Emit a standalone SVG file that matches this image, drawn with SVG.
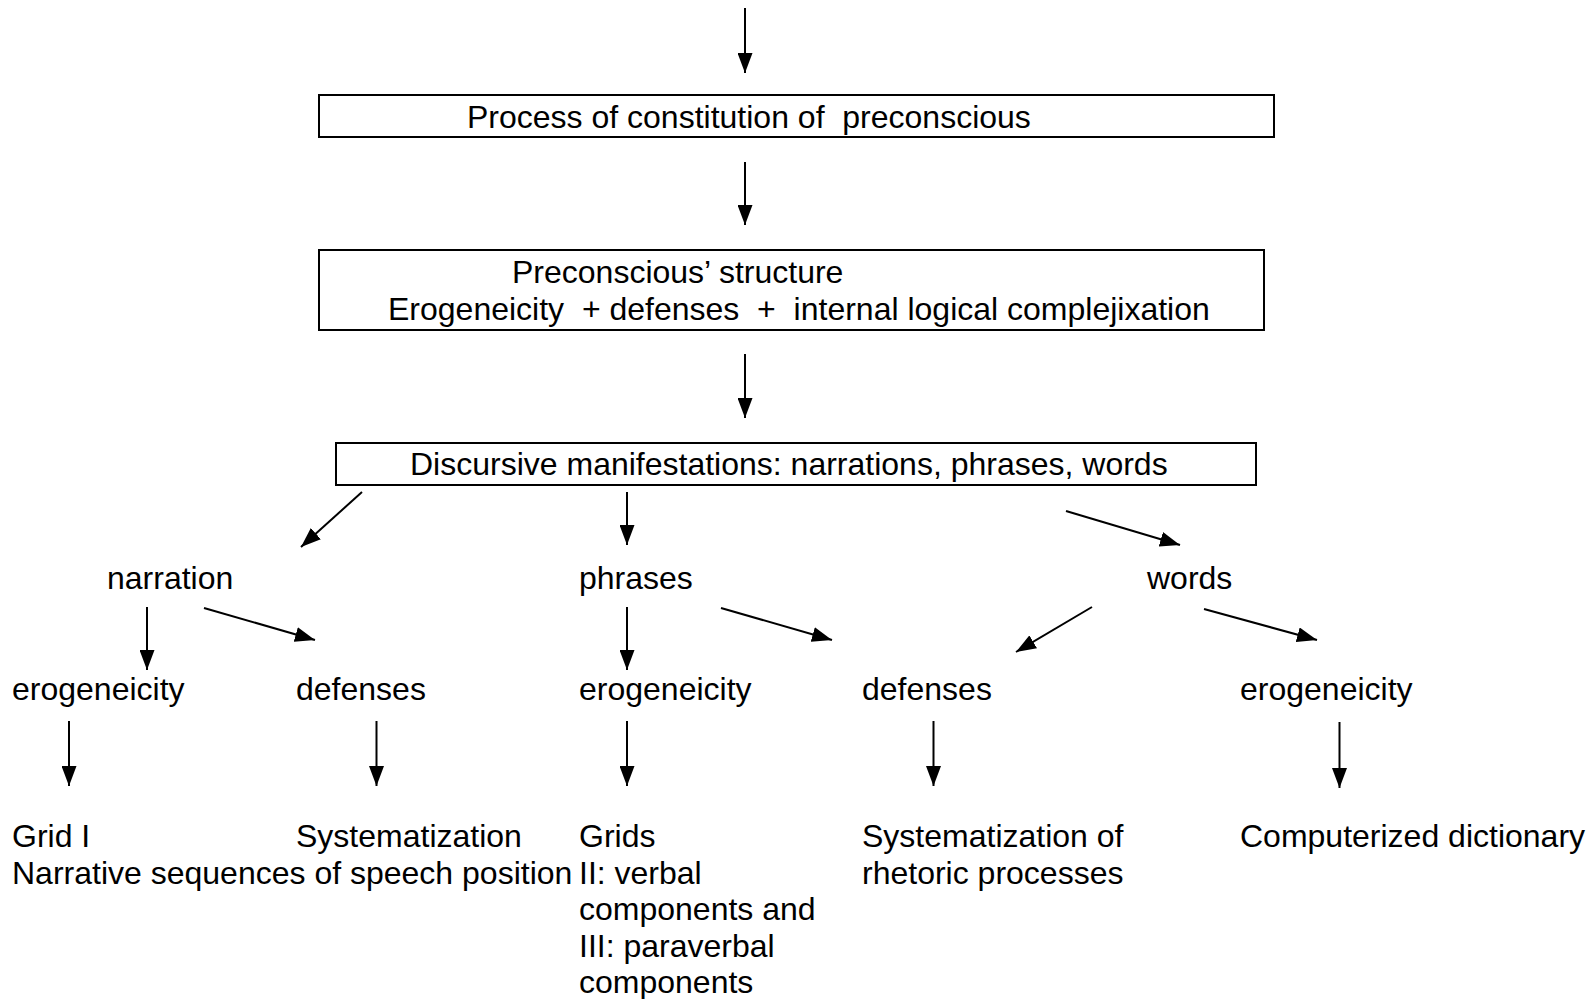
<svg xmlns="http://www.w3.org/2000/svg" width="1591" height="999" viewBox="0 0 1591 999">
<style>
text{font-family:"Liberation Sans",Arial,sans-serif;font-size:32px;fill:#000;white-space:pre}
.box{fill:#fff;stroke:#000;stroke-width:2}
.c line{stroke:#000;stroke-width:2;marker-end:url(#ah)}
</style>
<defs>
<marker id="ah" markerUnits="userSpaceOnUse" markerWidth="20" markerHeight="15" refX="20" refY="7.5" orient="auto"><path d="M0,0 L20,7.5 L0,15 z" fill="#000"/></marker>
</defs>
<rect width="1591" height="999" fill="#fff"/>
<g class="c" id="connectors">
<line x1="745" y1="8" x2="745" y2="73"/>
<line x1="745" y1="162" x2="745" y2="225"/>
<line x1="745" y1="354" x2="745" y2="418"/>
<line x1="362" y1="492" x2="301" y2="547"/>
<line x1="627" y1="492" x2="627" y2="545"/>
<line x1="1066" y1="511" x2="1180" y2="545"/>
<line x1="147" y1="607" x2="147" y2="670"/>
<line x1="204" y1="608" x2="315" y2="640"/>
<line x1="627" y1="607" x2="627" y2="670"/>
<line x1="721" y1="608" x2="832" y2="640"/>
<line x1="1092" y1="607" x2="1016" y2="652"/>
<line x1="1204" y1="609" x2="1317" y2="640"/>
<line x1="69" y1="721" x2="69" y2="786"/>
<line x1="376.5" y1="721" x2="376.5" y2="786"/>
<line x1="627" y1="721" x2="627" y2="786"/>
<line x1="933.5" y1="721" x2="933.5" y2="786"/>
<line x1="1339.5" y1="722" x2="1339.5" y2="788"/>
</g>
<g id="n-process"><rect class="box" x="319" y="95" width="955" height="42"/><text x="467" y="128" xml:space="preserve">Process of constitution of  preconscious</text></g>
<g id="n-structure"><rect class="box" x="319" y="250" width="945" height="80"/><text x="512" y="283">Preconscious’ structure</text><text x="388" y="320" xml:space="preserve">Erogeneicity  + defenses  +  internal logical complejixation</text></g>
<g id="n-discursive"><rect class="box" x="336" y="443" width="920" height="42"/><text x="410" y="475">Discursive manifestations: narrations, phrases, words</text></g>
<g id="n-narration"><text x="107" y="589">narration</text></g>
<g id="n-phrases"><text x="579" y="589">phrases</text></g>
<g id="n-words"><text x="1147" y="589">words</text></g>
<g id="n-ero1"><text x="12" y="700">erogeneicity</text></g>
<g id="n-def1"><text x="296" y="700">defenses</text></g>
<g id="n-ero2"><text x="579" y="700">erogeneicity</text></g>
<g id="n-def2"><text x="862" y="700">defenses</text></g>
<g id="n-ero3"><text x="1240" y="700">erogeneicity</text></g>
<g id="n-grid1"><text x="12" y="847">Grid I</text><text x="12" y="884">Narrative sequences of speech position</text></g>
<g id="n-sys1"><text x="296" y="847">Systematization</text></g>
<g id="n-grids"><text x="579" y="847">Grids</text><text x="579" y="884">II: verbal</text><text x="579" y="920">components and</text><text x="579" y="957">III: paraverbal</text><text x="579" y="993">components</text></g>
<g id="n-sys2"><text x="862" y="847">Systematization of</text><text x="862" y="884">rhetoric processes</text></g>
<g id="n-dict"><text x="1240" y="847">Computerized dictionary</text></g>
</svg>
